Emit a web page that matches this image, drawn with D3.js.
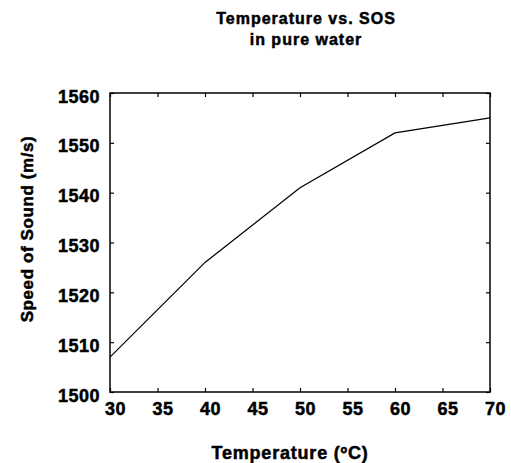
<!DOCTYPE html>
<html>
<head>
<meta charset="utf-8">
<script src="https://cdn.jsdelivr.net/npm/d3@7"></script>
<style>
  body { margin: 0; background: #fff; }
  svg text { font-family: "Liberation Sans", Arial, sans-serif; font-weight: bold; fill: #000;
             stroke: #000; stroke-width: 0.5px; }
</style>
</head>
<body>
<div id="chart"></div>
<script>
// data
var temps = [30, 40, 50, 60, 70];
var sos = [1507, 1526, 1541, 1552, 1555];
var xTicks = [30, 35, 40, 45, 50, 55, 60, 65, 70];
var yTicks = [1500, 1510, 1520, 1530, 1540, 1550, 1560];

var width = 511, height = 463;
var margin = { top: 93, right: 21, bottom: 71, left: 110 };

var svg = d3.select("#chart").append("svg")
  .attr("width", width)
  .attr("height", height);

var x = d3.scaleLinear().domain([30, 70]).range([margin.left, width - margin.right]);
var y = d3.scaleLinear().domain([1500, 1560]).range([height - margin.bottom, margin.top]);

// frame
svg.append("rect")
  .attr("x", x(30)).attr("y", y(1560))
  .attr("width", x(70) - x(30)).attr("height", y(1500) - y(1560))
  .attr("fill", "none").attr("stroke", "#000").attr("stroke-width", 1.5);

// axes with inward ticks
var tk = 4;
var axBottom = svg.append("g").attr("transform", "translate(0," + y(1500) + ")")
  .call(d3.axisBottom(x).tickValues(xTicks).tickSize(-tk).tickPadding(10).tickFormat(d3.format("d")));
var axTop = svg.append("g").attr("transform", "translate(0," + y(1560) + ")")
  .call(d3.axisTop(x).tickValues(xTicks).tickSize(-tk).tickFormat(""));
var axLeft = svg.append("g").attr("transform", "translate(" + x(30) + ",0)")
  .call(d3.axisLeft(y).tickValues(yTicks).tickSize(-tk).tickPadding(10).tickFormat(d3.format("d")));
var axRight = svg.append("g").attr("transform", "translate(" + x(70) + ",0)")
  .call(d3.axisRight(y).tickValues(yTicks).tickSize(-tk).tickFormat(""));

[axBottom, axTop, axLeft, axRight].forEach(function(g) {
  g.select(".domain").remove();
  g.selectAll("line").attr("stroke", "#000").attr("stroke-width", 1.2);
  g.selectAll("text").attr("fill", "#000").style("font-size", "18px")
    .style("font-family", "Liberation Sans, Arial, sans-serif").style("font-weight", "bold")
    .style("letter-spacing", "0.5px");
});
axBottom.selectAll("text").attr("dx", 5);
axLeft.selectAll("text").attr("dy", "0.5em");

// the line
var line = d3.line()
  .x(function(d, i) { return x(temps[i]); })
  .y(function(d) { return y(d); });

svg.append("path")
  .datum(sos)
  .attr("fill", "none")
  .attr("stroke", "#000")
  .attr("stroke-width", 1.2)
  .attr("d", line);

// titles
svg.append("text").attr("x", 306).attr("y", 24).attr("text-anchor", "middle")
  .style("font-size", "16px").style("letter-spacing", "1px").text("Temperature vs. SOS");
svg.append("text").attr("x", 306).attr("y", 45).attr("text-anchor", "middle")
  .style("font-size", "16px").style("letter-spacing", "1px").text("in pure water");

svg.append("text").attr("x", 290).attr("y", 459).attr("text-anchor", "middle")
  .style("font-size", "18px").style("letter-spacing", "0.8px").text("Temperature (ºC)");

svg.append("text")
  .attr("transform", "translate(33,229) rotate(-90)")
  .attr("text-anchor", "middle")
  .style("font-size", "17px").style("letter-spacing", "0.6px").text("Speed of Sound (m/s)");
</script>
</body>
</html>
